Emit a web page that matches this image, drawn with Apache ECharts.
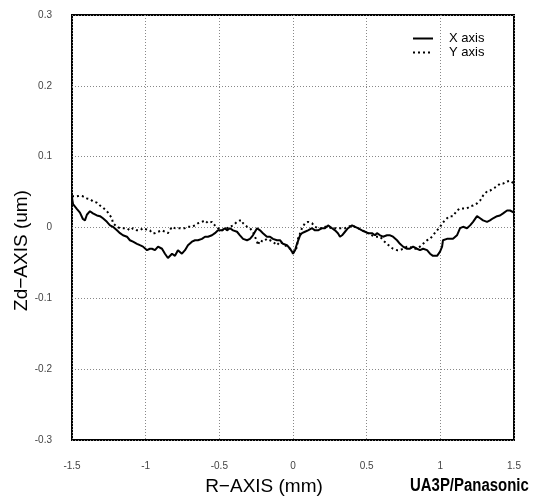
<!DOCTYPE html>
<html>
<head>
<meta charset="utf-8">
<script src="https://cdn.jsdelivr.net/npm/echarts@6/dist/echarts.min.js"></script>
<style>html,body{margin:0;padding:0;background:#fff}#c{width:539px;height:501px}</style>
</head>
<body>
<div id="c"></div>
<script>
const seriesNames = ['X axis', 'Y axis'];
const xTicks = [-1.5, -1, -0.5, 0, 0.5, 1, 1.5];
const yTicks = [-0.3, -0.2, -0.1, 0, 0.1, 0.2, 0.3];

const xSolid = [-1.500,-1.493,-1.466,-1.446,-1.426,-1.412,-1.399,-1.378,-1.358,-1.331,-1.310,-1.290,-1.263,-1.242,-1.222,-1.195,-1.174,-1.154,-1.127,-1.107,-1.086,-1.059,-1.039,-1.018,-0.991,-0.971,-0.957,-0.937,-0.916,-0.889,-0.869,-0.849,-0.821,-0.801,-0.781,-0.754,-0.733,-0.713,-0.686,-0.665,-0.645,-0.618,-0.597,-0.577,-0.550,-0.530,-0.509,-0.482,-0.462,-0.448,-0.428,-0.407,-0.380,-0.360,-0.339,-0.312,-0.292,-0.272,-0.244,-0.224,-0.204,-0.177,-0.156,-0.136,-0.109,-0.088,-0.068,-0.041,-0.020,-0.007,0,0.014,0.027,0.048,0.061,0.081,0.102,0.129,0.149,0.170,0.197,0.217,0.238,0.265,0.285,0.305,0.319,0.333,0.353,0.373,0.401,0.421,0.441,0.468,0.489,0.509,0.536,0.557,0.570,0.591,0.611,0.638,0.659,0.679,0.706,0.726,0.747,0.774,0.794,0.815,0.842,0.862,0.883,0.910,0.930,0.950,0.978,0.998,1.012,1.018,1.045,1.086,1.113,1.134,1.154,1.181,1.202,1.222,1.249,1.270,1.290,1.317,1.337,1.358,1.385,1.405,1.426,1.453,1.473,1.500];
const ySolid = [0.042,0.033,0.026,0.021,0.012,0.010,0.018,0.023,0.020,0.017,0.016,0.013,0.008,0.003,0.001,-0.004,-0.008,-0.011,-0.013,-0.018,-0.020,-0.023,-0.025,-0.027,-0.032,-0.030,-0.030,-0.032,-0.027,-0.030,-0.037,-0.043,-0.037,-0.040,-0.032,-0.037,-0.032,-0.025,-0.020,-0.018,-0.018,-0.016,-0.013,-0.013,-0.011,-0.008,-0.004,-0.004,-0.001,-0.004,-0.001,-0.004,-0.006,-0.011,-0.016,-0.018,-0.016,-0.011,-0.001,-0.004,-0.008,-0.013,-0.013,-0.016,-0.018,-0.018,-0.023,-0.025,-0.030,-0.034,-0.037,-0.032,-0.023,-0.011,-0.008,-0.006,-0.004,-0.001,-0.004,-0.004,-0.001,-0.001,0.003,-0.001,-0.004,-0.008,-0.013,-0.011,-0.006,-0.001,0.003,0.001,-0.001,-0.004,-0.006,-0.008,-0.008,-0.011,-0.008,-0.011,-0.013,-0.011,-0.011,-0.013,-0.018,-0.023,-0.027,-0.030,-0.030,-0.027,-0.030,-0.032,-0.030,-0.032,-0.037,-0.040,-0.040,-0.034,-0.027,-0.018,-0.016,-0.016,-0.011,-0.001,0.001,-0.001,0.003,0.008,0.016,0.013,0.010,0.008,0.010,0.013,0.016,0.017,0.020,0.024,0.024,0.021];

const xDotted = [-1.500,-1.466,-1.446,-1.426,-1.399,-1.378,-1.358,-1.331,-1.310,-1.290,-1.263,-1.242,-1.229,-1.222,-1.195,-1.174,-1.154,-1.127,-1.107,-1.086,-1.059,-1.039,-1.018,-0.991,-0.971,-0.957,-0.937,-0.916,-0.889,-0.869,-0.849,-0.821,-0.801,-0.781,-0.754,-0.733,-0.713,-0.686,-0.665,-0.645,-0.618,-0.597,-0.577,-0.550,-0.530,-0.509,-0.482,-0.462,-0.448,-0.428,-0.407,-0.380,-0.360,-0.346,-0.339,-0.312,-0.292,-0.272,-0.258,-0.244,-0.238,-0.224,-0.204,-0.177,-0.156,-0.136,-0.109,-0.102,-0.088,-0.068,-0.041,-0.020,0,0.014,0.027,0.034,0.061,0.081,0.102,0.129,0.149,0.170,0.197,0.217,0.238,0.265,0.285,0.305,0.333,0.353,0.373,0.401,0.421,0.441,0.468,0.489,0.509,0.536,0.557,0.570,0.591,0.611,0.638,0.659,0.679,0.706,0.726,0.747,0.774,0.794,0.815,0.842,0.862,0.883,0.910,0.930,0.950,0.978,0.998,1.018,1.045,1.066,1.086,1.113,1.134,1.154,1.181,1.202,1.222,1.249,1.270,1.290,1.317,1.337,1.358,1.385,1.405,1.426,1.453,1.473,1.500];
const yDotted = [0.044,0.044,0.045,0.044,0.041,0.040,0.037,0.035,0.031,0.028,0.023,0.017,0.013,0.006,0.001,-0.001,-0.001,-0.001,-0.004,-0.001,-0.004,-0.004,-0.001,-0.003,-0.004,-0.008,-0.008,-0.006,-0.004,-0.006,-0.008,0.001,-0.001,-0.001,-0.001,-0.001,0.001,0.001,0.003,0.006,0.008,0.010,0.006,0.008,0.003,-0.001,-0.004,-0.001,-0.001,0.001,0.003,0.008,0.010,0.010,0.006,0.001,-0.001,-0.006,-0.013,-0.020,-0.025,-0.018,-0.020,-0.016,-0.018,-0.020,-0.025,-0.027,-0.020,-0.023,-0.027,-0.030,-0.034,-0.034,-0.027,-0.016,-0.001,0.006,0.008,0.006,0.001,-0.001,-0.001,0.001,0.001,-0.001,-0.001,-0.001,-0.001,-0.001,0.001,0.003,0.001,-0.001,-0.004,-0.006,-0.008,-0.011,-0.013,-0.011,-0.013,-0.018,-0.023,-0.027,-0.030,-0.032,-0.032,-0.030,-0.027,-0.027,-0.030,-0.030,-0.027,-0.023,-0.018,-0.016,-0.011,-0.004,0.001,0.007,0.013,0.016,0.016,0.024,0.027,0.027,0.027,0.030,0.031,0.034,0.038,0.045,0.051,0.052,0.055,0.058,0.062,0.062,0.065,0.066,0.062];

const pairs = (xs, ys) => xs.map((x, i) => [x, ys[i]]);

const chart = echarts.init(document.getElementById('c'), null, {renderer: 'canvas'});
const tickFont = {fontFamily: 'Liberation Sans, Arial, sans-serif', fontSize: 10, color: '#444'};
const nameFont = {fontFamily: 'Liberation Sans, Arial, sans-serif', fontSize: 19, color: '#000'};
chart.setOption({
  animation: false,
  backgroundColor: '#fff',
  grid: {left: 72, right: 25, top: 15, bottom: 61, containLabel: false, outerBoundsMode: 'none',
         show: true, borderColor: '#000', borderWidth: 2, backgroundColor: 'transparent'},
  legend: {
    orient: 'vertical', left: 407, top: 27, itemWidth: 20, itemHeight: 8, itemGap: 1,
    itemStyle: {color: 'transparent', borderWidth: 0},
    textStyle: {fontFamily: 'Liberation Sans, Arial, sans-serif', fontSize: 13, color: '#000', padding: [0, 0, 0, 11]},
    data: seriesNames
  },
  xAxis: {
    type: 'value', min: xTicks[0], max: xTicks[xTicks.length - 1], interval: 0.5,
    name: 'R−AXIS (mm)', nameLocation: 'middle', nameGap: 37, nameMoveOverlap: false,
    nameTextStyle: Object.assign({padding: [0, 58, 0, 0]}, nameFont),
    axisLine: {show: false}, axisTick: {show: false},
    axisLabel: Object.assign({margin: 21}, tickFont),
    splitLine: {show: true, lineStyle: {color: '#888', type: [1, 2], width: 1}}
  },
  yAxis: {
    type: 'value', min: yTicks[0], max: yTicks[yTicks.length - 1], interval: 0.1,
    name: 'Zd−AXIS (um)', nameLocation: 'middle', nameGap: 41, nameMoveOverlap: false,
    nameTextStyle: Object.assign({padding: [0, 46, 0, 0]}, nameFont),
    axisLine: {show: false}, axisTick: {show: false},
    axisLabel: Object.assign({margin: 20, formatter: v => (Math.round(v * 10) / 10).toString()}, tickFont),
    splitLine: {show: true, lineStyle: {color: '#888', type: [1, 2], width: 1}}
  },
  series: [
    {name: seriesNames[0], type: 'line', symbol: 'none', data: pairs(xSolid, ySolid),
     lineStyle: {color: '#000', width: 2}, itemStyle: {color: '#000'}},
    {name: seriesNames[1], type: 'line', symbol: 'none', data: pairs(xDotted, yDotted),
     lineStyle: {color: '#000', width: 2, type: [2, 3]}, itemStyle: {color: '#000'}}
  ],
  graphic: [{
    type: 'text', x: 410, y: 477, scaleX: 0.83,
    style: {text: 'UA3P/Panasonic', fontFamily: 'Liberation Sans, Arial, sans-serif', fontWeight: 'bold', fontSize: 18, fill: '#000'}
  }]
});
</script>
</body>
</html>
